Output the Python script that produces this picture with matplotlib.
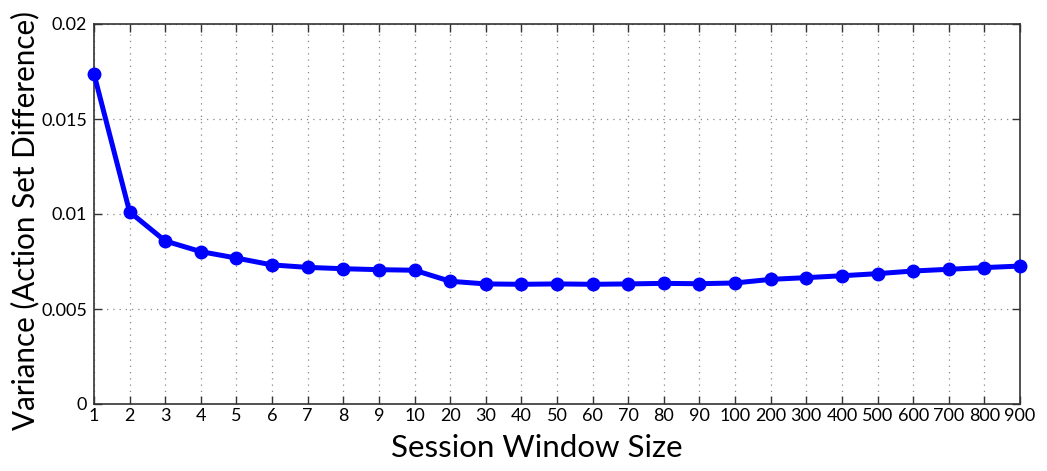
import matplotlib
matplotlib.use("Agg")
import matplotlib.pyplot as plt

window_labels = ["1", "2", "3", "4", "5", "6", "7", "8", "9", "10",
                 "20", "30", "40", "50", "60", "70", "80", "90", "100",
                 "200", "300", "400", "500", "600", "700", "800", "900"]
variance = [0.01737, 0.01011, 0.00858, 0.00802, 0.00768, 0.00732, 0.00719,
            0.00712, 0.00707, 0.00704, 0.00646, 0.00632, 0.00630, 0.00632,
            0.00630, 0.00632, 0.00635, 0.00633, 0.00637, 0.00656, 0.00665,
            0.00675, 0.00686, 0.00700, 0.00709, 0.00718, 0.00726]
y_ticks = [0, 0.005, 0.01, 0.015, 0.02]
y_tick_labels = ["0", "0.005", "0.01", "0.015", "0.02"]

plt.rcParams['font.family'] = ['Lato', 'DejaVu Sans']

W, H = 1047, 471
fig = plt.figure(figsize=(W / 100, H / 100), dpi=100)
ax = fig.add_axes([94 / W, 1 - 404 / H, (1020 - 94) / W, (404 - 24) / H])

x = list(range(len(window_labels)))
ax.plot(x, variance, color='#0000ff', linewidth=3.6, marker='o', markersize=9,
        solid_joinstyle='round', zorder=3, clip_on=False)

ax.set_xlim(0, len(window_labels) - 1)
ax.set_ylim(0, 0.02)
ax.set_xticks(x)
ax.set_xticklabels(window_labels)
ax.set_yticks(y_ticks)
ax.set_yticklabels(y_tick_labels)

ax.grid(True, linestyle=(0, (1, 4)), color='#888888', linewidth=0.9)
ax.tick_params(direction='in', top=True, right=True, length=6, width=1,
               labelsize=13, color='#333333')
ax.tick_params(axis='y', pad=5)
ax.tick_params(axis='x', pad=3)
for s in ax.spines.values():
    s.set_color('#333333')
    s.set_linewidth(1.2)

# Axis titles placed in figure pixels, sized to a target span
renderer = fig.canvas.get_renderer()


def fitted_text(xp, yp, s, target, rotation=0):
    t = fig.text(xp / W, 1 - yp / H, s, fontsize=20, rotation=rotation,
                 ha='center', va='center')
    bb = t.get_window_extent(renderer)
    span = bb.height if rotation else bb.width
    t.set_fontsize(20 * target / span)
    return t


fitted_text(537, 448, "Session Window Size", 292)
fitted_text(25, 220, "Variance (Action Set Difference)", 420, rotation=90)

fig.savefig("out.png", dpi=100)
